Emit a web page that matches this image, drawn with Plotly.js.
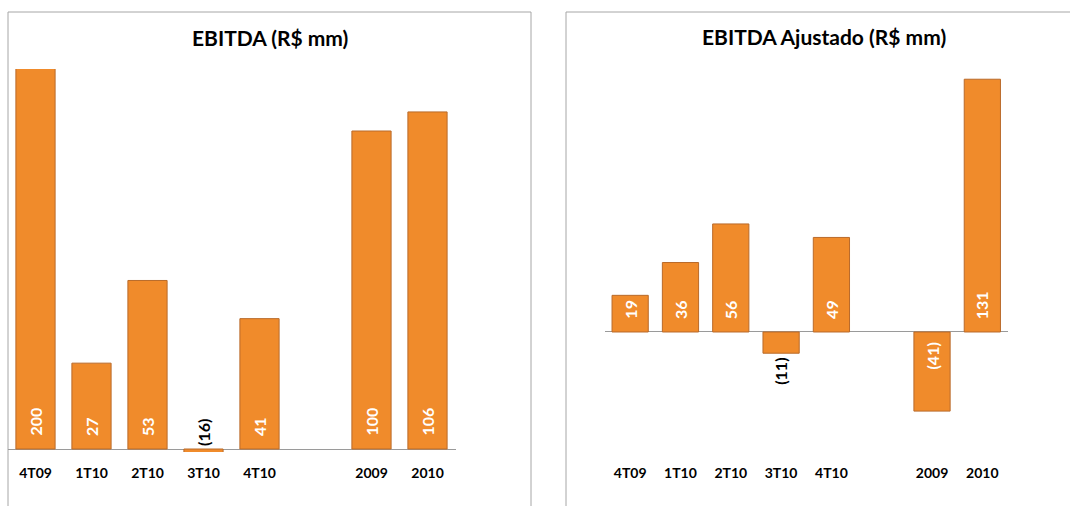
<!DOCTYPE html>
<html>
<head>
<meta charset="utf-8">
<script src="https://cdn.plot.ly/plotly-3.0.1.min.js"></script>
<style>html,body{margin:0;padding:0;background:#fff;}#chart{width:1070px;height:506px;}</style>
</head>
<body>
<div id="chart"></div>
<script>
// ---- data ----
const categories = ['4T09', '1T10', '2T10', '3T10', '4T10', ' ', '2009', '2010'];
const ebitda = [200, 27, 53, -16, 41, null, 100, 106];
const ebitdaAjustado = [19, 36, 56, -11, 49, null, -41, 131];
const titleLeft = 'EBITDA (R$ mm)';
const titleRight = 'EBITDA Ajustado (R$ mm)';

// ---- style ----
const W = 1070, H = 506;
const FONT = 'Lato, "Open Sans", sans-serif';
const barColor = '#F08B2B';
const barLine = '#B96A2A';
const axisGray = '#9A9A9A';
const yDomain = [(H - 452) / H, (H - 69) / H];
const leftRange = [-0.94, 119.5];
const rightRange = [-62.2, 136.3];

function fmt(v) { return v < 0 ? '(' + Math.abs(v) + ')' : String(v); }

function labelAnnotations(vals, xref, yref, range) {
  const plotH = (yDomain[1] - yDomain[0]) * H;
  const pxPerUnit = plotH / (range[1] - range[0]);
  const out = [];
  vals.forEach((v, i) => {
    if (v === null) return;
    const lo = Math.max(Math.min(0, v), range[0]);
    const hi = Math.min(Math.max(0, v), range[1]);
    const visPx = (hi - lo) * pxPerUnit;
    const inside = visPx >= 30;
    const a = {
      xref: xref, yref: yref, x: i, text: '<b>' + fmt(v) + '</b>',
      textangle: -90, showarrow: false,
      font: {family: FONT, size: 16, color: inside ? '#FFFFFF' : '#000000'}
    };
    if (inside) {
      a.y = 0;
      if (v >= 0) { a.yanchor = 'bottom'; a.yshift = 11; }
      else { a.yanchor = 'top'; a.yshift = -9; }
    } else {
      if (v >= 0 || hi - lo < 2) {
        a.y = 0; a.yanchor = 'bottom'; a.yshift = 1;
      } else {
        a.y = v; a.yanchor = 'top'; a.yshift = -3;
      }
    }
    out.push(a);
  });
  return out;
}

const traces = [
  {type: 'bar', x: categories, y: ebitda, xaxis: 'x', yaxis: 'y',
   width: 0.7, marker: {color: barColor, line: {color: barLine, width: 1}},
   hoverinfo: 'x+y', cliponaxis: true},
  {type: 'bar', x: categories, y: ebitdaAjustado, xaxis: 'x2', yaxis: 'y2',
   width: 0.72, marker: {color: barColor, line: {color: barLine, width: 1}},
   hoverinfo: 'x+y', cliponaxis: true}
];

const xCommon = {
  type: 'category', categoryorder: 'array', categoryarray: categories,
  range: [-0.5, categories.length - 0.5], autorange: false,
  showgrid: false, zeroline: false, showline: false, ticks: '',
  tickfont: {family: FONT, size: 14, color: '#000', weight: 'bold'},
  ticklabelstandoff: 11, fixedrange: true
};
const yCommon = {
  showgrid: false, showticklabels: false, showline: false, ticks: '',
  zeroline: true, zerolinecolor: axisGray, zerolinewidth: 1, domain: yDomain, fixedrange: true
};

const layout = {
  width: W, height: H,
  margin: {l: 0, r: 0, t: 0, b: 0},
  paper_bgcolor: '#FFFFFF', plot_bgcolor: 'rgba(0,0,0,0)',
  showlegend: false, bargap: 0.3,
  xaxis: Object.assign({}, xCommon, {domain: [7.5 / W, 455.5 / W], anchor: 'y'}),
  yaxis: Object.assign({}, yCommon, {range: leftRange, anchor: 'x'}),
  xaxis2: Object.assign({}, xCommon, {domain: [605 / W, 1007.5 / W], anchor: 'y2'}),
  yaxis2: Object.assign({}, yCommon, {range: rightRange, anchor: 'x2'}),
  shapes: [
    {type: 'path', xref: 'paper', yref: 'paper', layer: 'below',
     path: 'M ' + (8 / W) + ' 0 L ' + (8 / W) + ' ' + ((H - 12) / H) + ' L ' + (531 / W) + ' ' + ((H - 12) / H) + ' L ' + (531 / W) + ' 0',
     line: {color: '#A6A6A6', width: 1}},
    {type: 'path', xref: 'paper', yref: 'paper', layer: 'below',
     path: 'M ' + (566 / W) + ' 0 L ' + (566 / W) + ' ' + ((H - 12) / H) + ' L 1.01 ' + ((H - 12) / H),
     line: {color: '#A6A6A6', width: 1}}
  ],
  annotations: [
    {xref: 'paper', yref: 'paper', x: 270 / W, y: (H - 37) / H, xanchor: 'center', yanchor: 'middle',
     text: '<b>' + titleLeft + '</b>', showarrow: false, font: {family: FONT, size: 21, color: '#000'}},
    {xref: 'paper', yref: 'paper', x: 824 / W, y: (H - 36) / H, xanchor: 'center', yanchor: 'middle',
     text: '<b>' + titleRight + '</b>', showarrow: false, font: {family: FONT, size: 21, color: '#000'}}
  ].concat(labelAnnotations(ebitda, 'x', 'y', leftRange))
   .concat(labelAnnotations(ebitdaAjustado, 'x2', 'y2', rightRange))
};

Plotly.newPlot('chart', traces, layout, {displayModeBar: false, staticPlot: true});
</script>
</body>
</html>
